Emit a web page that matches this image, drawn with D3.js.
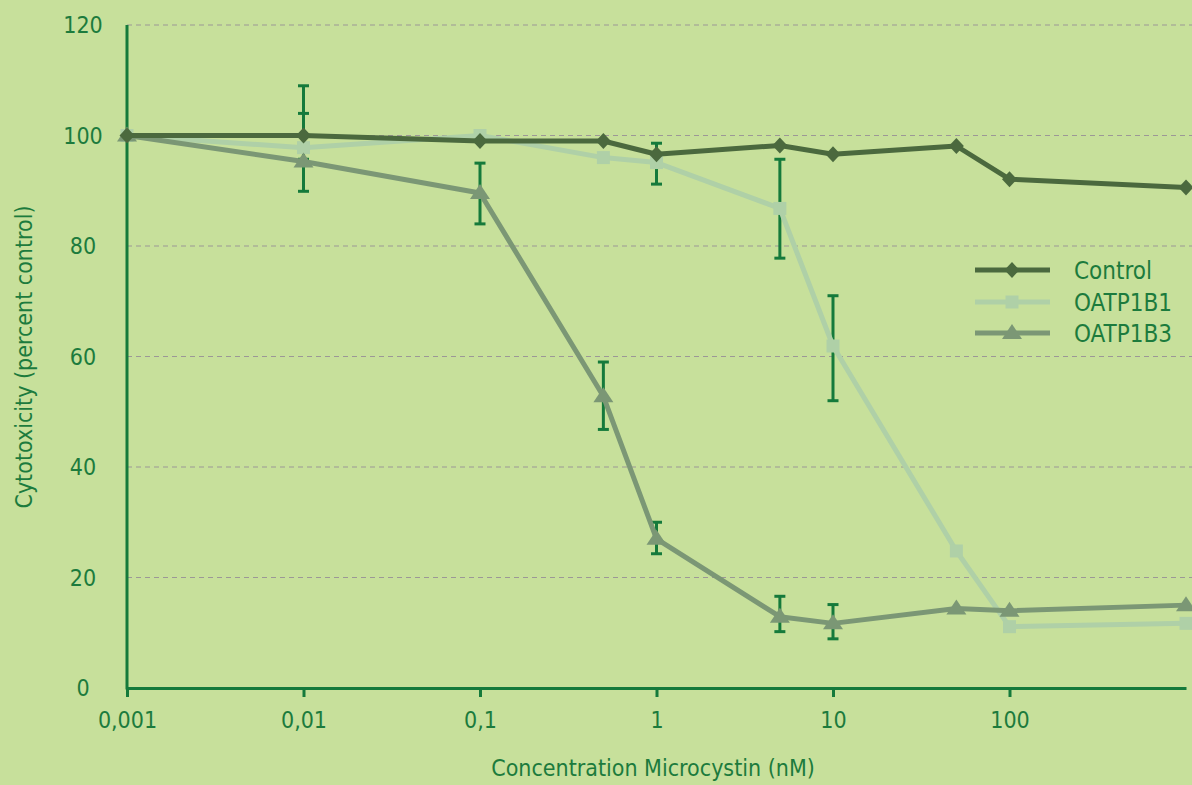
<!DOCTYPE html>
<html>
<head>
<meta charset="utf-8">
<script src="https://cdn.jsdelivr.net/npm/d3@7"></script>
<style>
  html, body { margin: 0; padding: 0; background: #c7e09b; }
  svg { display: block; }
  text { font-family: 'Liberation Sans Narrow', 'DejaVu Sans Condensed', sans-serif; fill: #1c7b3d; }
</style>
</head>
<body>
<div id="chart"></div>
<script>
const concentrations = [0.001, 0.01, 0.1, 0.5, 1, 5, 10, 50, 100, 1000];
const control = [100, 100, 99.0, 99.0, 96.6, 98.2, 96.6, 98.1, 92.1, 90.6];
const oatp1b1 = [100, 97.8, 100, 96.0, 95.1, 86.8, 61.9, 24.8, 11.1, 11.7];
const oatp1b3 = [100, 95.3, 89.6, 52.8, 27.0, 12.9, 11.7, 14.4, 14.0, 15.0];

// error bars
const errX = [0.01, 0.01, 0.1, 0.5, 1, 1, 5, 5, 10, 10];
const errLo = [89.9, 95.7, 84.0, 46.8, 91.2, 24.3, 77.8, 10.2, 52.0, 8.9];
const errHi = [109.0, 104.0, 95.0, 59.0, 98.6, 30.0, 95.7, 16.6, 71.0, 15.1];

const xTicks = [0.001, 0.01, 0.1, 1, 10, 100];
const xTickLabels = ['0,001', '0,01', '0,1', '1', '10', '100'];
const yTicks = [0, 20, 40, 60, 80, 100, 120];

const width = 1192;
const height = 785;
const margin = { top: 25, bottom: 97, left: 127, right: 6 };

const axisColor = '#157a3b';

const svg = d3.select('#chart')
  .append('svg')
  .attr('width', width)
  .attr('height', height);

svg.append('rect')
  .attr('width', width)
  .attr('height', height)
  .attr('fill', '#c7e09b');

const x = d3.scaleLog()
  .domain([0.001, 1000])
  .range([margin.left, width - margin.right]);

const y = d3.scaleLinear()
  .domain([0, 120])
  .range([height - margin.bottom, margin.top]);

// gridlines
svg.append('g')
  .selectAll('line')
  .data(yTicks.filter(d => d > 0))
  .join('line')
    .attr('x1', margin.left)
    .attr('x2', width)
    .attr('y1', d => y(d))
    .attr('y2', d => y(d))
    .attr('stroke', '#9c9896')
    .attr('stroke-width', 1.2)
    .attr('stroke-dasharray', '5,4');

// y tick labels (centred in the gutter)
svg.append('g')
  .selectAll('text')
  .data(yTicks)
  .join('text')
    .attr('x', 83)
    .attr('y', d => y(d))
    .attr('dy', '0.36em')
    .attr('text-anchor', 'middle')
    .attr('font-size', '23px')
    .text(d => d);

// axes lines
svg.append('line')
  .attr('x1', margin.left).attr('x2', margin.left)
  .attr('y1', y(120)).attr('y2', y(0) + 1.5)
  .attr('stroke', axisColor).attr('stroke-width', 3);

function xAxis(g) {
  g.attr('transform', `translate(0, ${y(0)})`)
    .call(d3.axisBottom(x)
      .tickValues(xTicks)
      .tickFormat((d, i) => xTickLabels[i])
      .tickSize(9)
      .tickPadding(15)
      .tickSizeOuter(0));
  g.select('.domain').attr('stroke', axisColor).attr('stroke-width', 3);
  g.selectAll('.tick line').attr('stroke', axisColor).attr('stroke-width', 3);
  g.selectAll('.tick text')
    .attr('font-size', '23px')
    .attr('fill', '#1c7b3d')
    .attr('font-family', null);
}
svg.append('g').call(xAxis);

// error bars
const errData = errX.map((d, i) => ({ x: d, lo: errLo[i], hi: errHi[i] }));
const eb = svg.append('g')
  .attr('stroke', axisColor)
  .attr('stroke-width', 3);
eb.selectAll('line.v')
  .data(errData)
  .join('line')
    .attr('class', 'v')
    .attr('x1', d => x(d.x)).attr('x2', d => x(d.x))
    .attr('y1', d => y(d.lo)).attr('y2', d => y(d.hi));
eb.selectAll('line.cl')
  .data(errData)
  .join('line')
    .attr('class', 'cl')
    .attr('x1', d => x(d.x) - 5.5).attr('x2', d => x(d.x) + 5.5)
    .attr('y1', d => y(d.lo)).attr('y2', d => y(d.lo));
eb.selectAll('line.ch')
  .data(errData)
  .join('line')
    .attr('class', 'ch')
    .attr('x1', d => x(d.x) - 5.5).attr('x2', d => x(d.x) + 5.5)
    .attr('y1', d => y(d.hi)).attr('y2', d => y(d.hi));

// marker shapes
const diamond = { draw(ctx) { ctx.moveTo(0, -8); ctx.lineTo(7.5, 0); ctx.lineTo(0, 8); ctx.lineTo(-7.5, 0); ctx.closePath(); } };
const square = { draw(ctx) { ctx.rect(-6.5, -6.5, 13, 13); } };
const triangle = { draw(ctx) { ctx.moveTo(0, -9); ctx.lineTo(10, 6); ctx.lineTo(-10, 6); ctx.closePath(); } };

const series = [
  { name: 'OATP1B1', values: oatp1b1, color: '#afd0a7', shape: square },
  { name: 'OATP1B3', values: oatp1b3, color: '#7b9775', shape: triangle },
  { name: 'Control', values: control, color: '#4b693e', shape: diamond }
];

const line = d3.line()
  .x(d => x(d[0]))
  .y(d => y(d[1]));

series.forEach(s => {
  const pts = concentrations.map((c, i) => [c, s.values[i]]);
  const g = svg.append('g');
  g.append('path')
    .datum(pts)
    .attr('d', line)
    .attr('fill', 'none')
    .attr('stroke', s.color)
    .attr('stroke-width', 5)
    .attr('stroke-linejoin', 'round');
  g.selectAll('path.m')
    .data(pts)
    .join('path')
      .attr('class', 'm')
      .attr('transform', d => `translate(${x(d[0])},${y(d[1])})`)
      .attr('d', d3.symbol().type(s.shape))
      .attr('fill', s.color);
});

// legend
const legendOrder = ['Control', 'OATP1B1', 'OATP1B3'];
const legendY = [270, 302, 333];
const legend = svg.append('g');
legendOrder.forEach((name, i) => {
  const s = series.find(d => d.name === name);
  legend.append('line')
    .attr('x1', 975).attr('x2', 1050)
    .attr('y1', legendY[i]).attr('y2', legendY[i])
    .attr('stroke', s.color).attr('stroke-width', 5);
  legend.append('path')
    .attr('transform', `translate(1012,${legendY[i]})`)
    .attr('d', d3.symbol().type(s.shape))
    .attr('fill', s.color);
  legend.append('text')
    .attr('x', 1074)
    .attr('y', legendY[i])
    .attr('dy', '0.36em')
    .attr('font-size', '24px')
    .text(name);
});

// axis titles
svg.append('text')
  .attr('x', 653)
  .attr('y', 776)
  .attr('text-anchor', 'middle')
  .attr('font-size', '23px')
  .text('Concentration Microcystin (nM)');

svg.append('text')
  .attr('transform', 'translate(32,357) rotate(-90)')
  .attr('text-anchor', 'middle')
  .attr('font-size', '23px')
  .text('Cytotoxicity (percent control)');
</script>
</body>
</html>
